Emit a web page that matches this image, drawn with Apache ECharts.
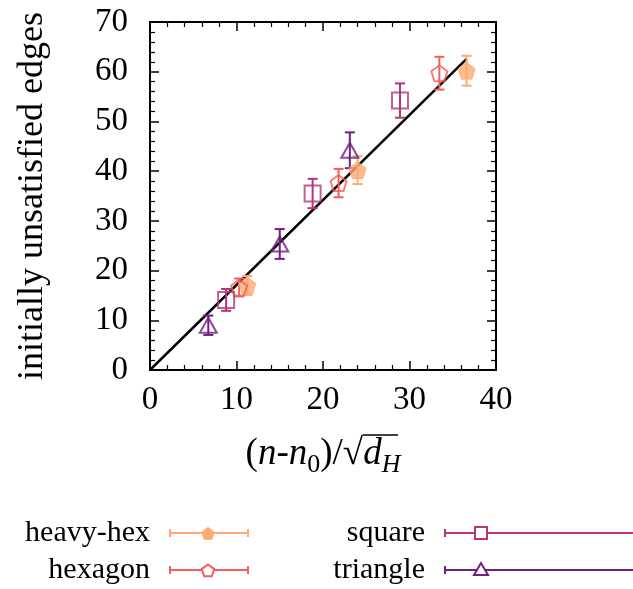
<!DOCTYPE html>
<html>
<head>
<meta charset="utf-8">
<script src="https://cdn.jsdelivr.net/npm/echarts@6/dist/echarts.min.js"></script>
<style>html,body{margin:0;padding:0;background:#fff}#c{width:633px;height:589px}</style>
</head>
<body>
<div id="c"></div>
<script>
// ---- data ----
var heavyHexX = [11.25, 24.0, 36.6];
var heavyHexY = [17.0, 40.2, 60.2];
var heavyHexErr = [1.9, 2.8, 3.0];

var hexagonX = [10.3, 21.8, 33.45];
var hexagonY = [16.6, 37.6, 59.7];
var hexagonErr = [1.8, 2.85, 3.3];

var squareX = [8.8, 18.8, 28.9];
var squareY = [14.1, 35.5, 54.2];
var squareErr = [2.2, 2.95, 3.45];

var triangleX = [6.74, 15.0, 23.1];
var triangleY = [9.0, 25.35, 44.2];
var triangleErr = [1.95, 3.0, 3.6];

var fitX = [0, 36.6];
var fitY = [0, 62.6];

var seriesNames = ['heavy-hex', 'hexagon', 'square', 'triangle'];
var colors = ['#FEAA72', '#F0605D', '#B5367A', '#721F81'];

var FONT = 'Liberation Serif';
var PENT = 'path://M0,-1 L0.951,-0.309 L0.588,0.809 L-0.588,0.809 L-0.951,-0.309 Z';

function pts(xs, ys, es) {
  return xs.map(function (x, i) { return [x, ys[i], es[i]]; });
}

function errSeries(name, data, color) {
  return {
    name: name, type: 'custom', z: 3,
    data: data,
    renderItem: function (params, api) {
      var x = api.value(0), y = api.value(1), e = api.value(2);
      var lo = api.coord([x, y - e]), hi = api.coord([x, y + e]);
      var w = 5;
      var st = { stroke: color, lineWidth: 2 };
      return { type: 'group', children: [
        { type: 'line', shape: { x1: lo[0], y1: lo[1], x2: hi[0], y2: hi[1] }, style: st },
        { type: 'line', shape: { x1: lo[0] - w, y1: lo[1], x2: lo[0] + w, y2: lo[1] }, style: st },
        { type: 'line', shape: { x1: hi[0] - w, y1: hi[1], x2: hi[0] + w, y2: hi[1] }, style: st }
      ]};
    }
  };
}

function markSeries(name, data, color, symbol, size, filled) {
  return {
    name: name, type: 'scatter', z: 4,
    symbol: symbol, symbolSize: size,
    data: data.map(function (d) { return [d[0], d[1]]; }),
    itemStyle: filled ? { color: color, borderColor: color, borderWidth: 1 }
                      : { color: 'rgba(255,255,255,0)', borderColor: color, borderWidth: 2 }
  };
}

var axisCommon = {
  axisLine: { show: true, onZero: false, lineStyle: { color: '#000', width: 2 } },
  axisTick: { show: true, inside: true, length: 9, lineStyle: { color: '#000', width: 1.5 } },
  minorTick: { show: true, splitNumber: 5, length: 5, lineStyle: { color: '#000', width: 1.2 } },
  splitLine: { show: false },
  minorSplitLine: { show: false }
};

function ax(extra) { return Object.assign({}, JSON.parse(JSON.stringify(axisCommon)), extra); }

var chart = echarts.init(document.getElementById('c'), null, { renderer: 'canvas' });

var legendGraphics = [];
var legendPos = [
  { tx: 150, y: 533, lx1: 170, lx2: 248 },
  { tx: 150, y: 570, lx1: 170, lx2: 248 },
  { tx: 425, y: 533, lx1: 445, lx2: 640 },
  { tx: 425, y: 570, lx1: 445, lx2: 640 }
];
seriesNames.forEach(function (nm, i) {
  var p = legendPos[i], c = colors[i];
  var mx = (i < 2) ? 208 : 481;
  legendGraphics.push({ type: 'text', x: p.tx, y: p.y,
    style: { text: nm, font: '30px "' + FONT + '"', fill: '#000', textAlign: 'right', textVerticalAlign: 'middle' } });
  legendGraphics.push({ type: 'line', shape: { x1: p.lx1, y1: p.y, x2: p.lx2, y2: p.y }, style: { stroke: c, lineWidth: 2 } });
  legendGraphics.push({ type: 'line', shape: { x1: p.lx1, y1: p.y - 4, x2: p.lx1, y2: p.y + 4 }, style: { stroke: c, lineWidth: 2 } });
  legendGraphics.push({ type: 'line', shape: { x1: p.lx2, y1: p.y - 4, x2: p.lx2, y2: p.y + 4 }, style: { stroke: c, lineWidth: 2 } });
  var r = 6.5;
  if (i < 2) {
    var pp = [];
    for (var k = 0; k < 5; k++) {
      var a = -Math.PI / 2 + k * 2 * Math.PI / 5;
      pp.push([mx + r * Math.cos(a), p.y + 1 + r * Math.sin(a)]);
    }
    legendGraphics.push({ type: 'polygon', shape: { points: pp },
      style: i === 0 ? { fill: c, stroke: c, lineWidth: 1 } : { fill: '#fff', stroke: c, lineWidth: 2 } });
  } else if (i === 2) {
    legendGraphics.push({ type: 'rect', shape: { x: mx - 6, y: p.y - 6, width: 12, height: 12 }, style: { fill: '#fff', stroke: c, lineWidth: 2 } });
  } else {
    legendGraphics.push({ type: 'polygon', shape: { points: [[mx, p.y - 7], [mx + 7, p.y + 5], [mx - 7, p.y + 5]] }, style: { fill: '#fff', stroke: c, lineWidth: 2 } });
  }
});
// radical vinculum over d_H
legendGraphics.push({ type: 'line', shape: { x1: 363, y1: 435, x2: 398, y2: 435 }, style: { stroke: '#000', lineWidth: 1.5 } });

var option = {
  animation: false,
  backgroundColor: '#fff',
  grid: { left: 150, right: 137, top: 22, bottom: 219, containLabel: false },
  xAxis: [
    ax({ type: 'value', min: 0, max: 40, interval: 10, position: 'bottom',
      axisLabel: { show: true, color: '#000', fontFamily: FONT, fontSize: 33, margin: 14 },
      name: '{p|(}{i|n}{p|-}{i|n}{z|0}{p|)/√}{i|d}{s|H}',
      nameLocation: 'middle', nameGap: 60,
      nameTextStyle: { rich: {
        p: { fontFamily: FONT, fontSize: 37, color: '#000', lineHeight: 48, verticalAlign: 'middle' },
        i: { fontFamily: FONT, fontSize: 37, fontStyle: 'italic', color: '#000', lineHeight: 48, verticalAlign: 'middle' },
        z: { fontFamily: FONT, fontSize: 26, color: '#000', lineHeight: 48, verticalAlign: 'bottom' },
        s: { fontFamily: FONT, fontSize: 26, fontStyle: 'italic', color: '#000', lineHeight: 48, verticalAlign: 'bottom' }
      } } }),
    ax({ type: 'value', min: 0, max: 40, interval: 10, position: 'top', axisLabel: { show: false } })
  ],
  yAxis: [
    ax({ type: 'value', min: 0, max: 70, interval: 10, position: 'left',
      axisLabel: { show: true, color: '#000', fontFamily: FONT, fontSize: 33, margin: 22 },
      name: 'initially unsatisfied edges', nameLocation: 'middle', nameGap: 99,
      nameTextStyle: { fontFamily: FONT, fontSize: 36, color: '#000' } }),
    ax({ type: 'value', min: 0, max: 70, interval: 10, position: 'right', axisLabel: { show: false } })
  ],
  graphic: legendGraphics,
  series: [
    { name: 'fit', type: 'line', z: 2, symbol: 'none', lineStyle: { color: '#000', width: 2.5 },
      data: fitX.map(function (x, i) { return [x, fitY[i]]; }) },
    errSeries('heavy-hex', pts(heavyHexX, heavyHexY, heavyHexErr), colors[0]),
    markSeries('heavy-hex', pts(heavyHexX, heavyHexY, heavyHexErr), colors[0], PENT, 17, true),
    errSeries('hexagon', pts(hexagonX, hexagonY, hexagonErr), colors[1]),
    markSeries('hexagon', pts(hexagonX, hexagonY, hexagonErr), colors[1], PENT, 16, false),
    errSeries('square', pts(squareX, squareY, squareErr), colors[2]),
    markSeries('square', pts(squareX, squareY, squareErr), colors[2], 'rect', 16, false),
    errSeries('triangle', pts(triangleX, triangleY, triangleErr), colors[3]),
    markSeries('triangle', pts(triangleX, triangleY, triangleErr), colors[3], 'triangle', [17, 15], false)
  ]
};
chart.setOption(option);
</script>
</body>
</html>
